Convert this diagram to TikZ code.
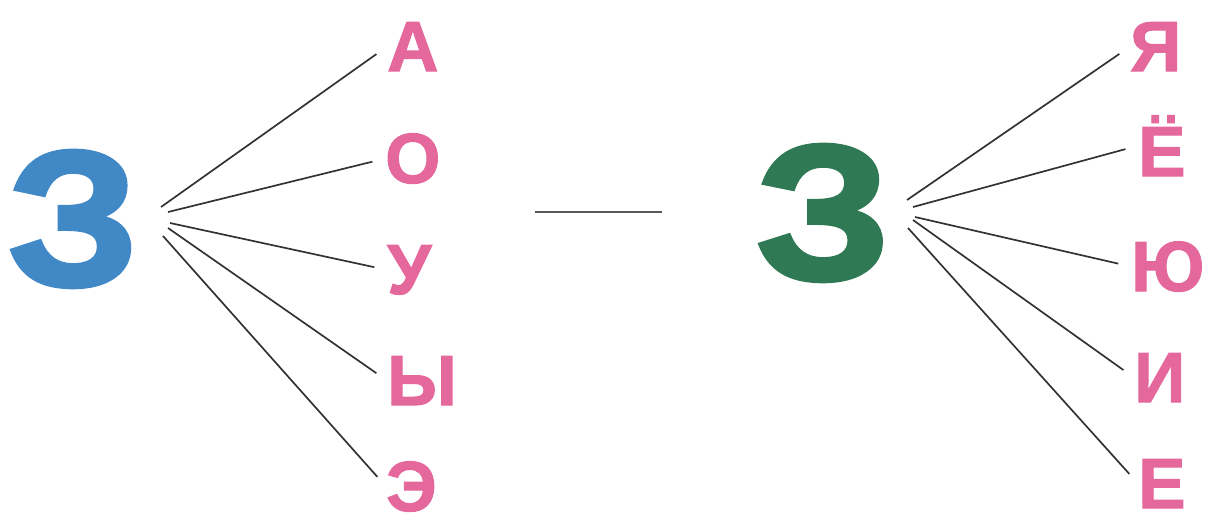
\documentclass[tikz,border=0pt]{standalone}
\usepackage{fontspec}
\setmainfont{Liberation Sans}
\newfontfamily\heavyfont{Liberation Sans Bold}[FakeBold=2.5]
\newfontfamily\vowelfont{Liberation Sans Bold}[FakeBold=1.5]
\usepackage{tikz}
\definecolor{zblue}{HTML}{4089C6}
\definecolor{zgreen}{HTML}{2F7A55}
\definecolor{vowelpink}{HTML}{E5689C}
\tikzset{bigcons/.style={font=\fontsize{192}{192}\heavyfont,anchor=base west,inner sep=0pt,xscale=1.08},
  vowel/.style={font=\fontsize{71}{71}\vowelfont,text=vowelpink,anchor=base west,inner sep=0pt},
  fanline/.style={draw=black!80,line width=1.7pt,shorten >=13pt},
  dashline/.style={draw=black!65,line width=1.7pt}}
\begin{document}
\begin{tikzpicture}[x=1pt,y=-1pt]
\path[use as bounding box] (0,0) rectangle (1214,520);
% left group: hard consonant
\node[bigcons,text=zblue] (zhard) at (8,285) {З};
\foreach \l/\x/\y/\n in {А/387/71/va,О/385/183/vo,У/387/294/vu,Ы/387/405/vy,Э/386/511/ve}
  \node[vowel] (\n) at (\x,\y) {\l};
\foreach \hx/\hy/\n in {161/207/va,168/212/vo,170/223/vu,168/228/vy,163/236/ve} {
  \coordinate (h\n) at (\hx,\hy);
  \draw[fanline] (h\n) -- (\n.west);}
% dash between groups
\coordinate (dl) at (535,212); \coordinate (dr) at (662,212);
\draw[dashline] (dl) -- (dr);
% right group: soft consonant
\node[bigcons,text=zgreen,xscale=1.03] (zsoft) at (756,279) {З};
\foreach \l/\x/\y/\n in {Я/1130/71/wja,Ё/1138/176/wjo,Ю/1131/291/wju,И/1134/402/wi,Е/1138/508/wje}
  \node[vowel] (\n) at (\x,\y) {\l};
\foreach \hx/\hy/\n in {907/200/wja,913/207/wjo,915/217/wju,913/220/wi,908/228/wje} {
  \coordinate (h\n) at (\hx,\hy);
  \draw[fanline] (h\n) -- (\n.west);}
\end{tikzpicture}
\end{document}
